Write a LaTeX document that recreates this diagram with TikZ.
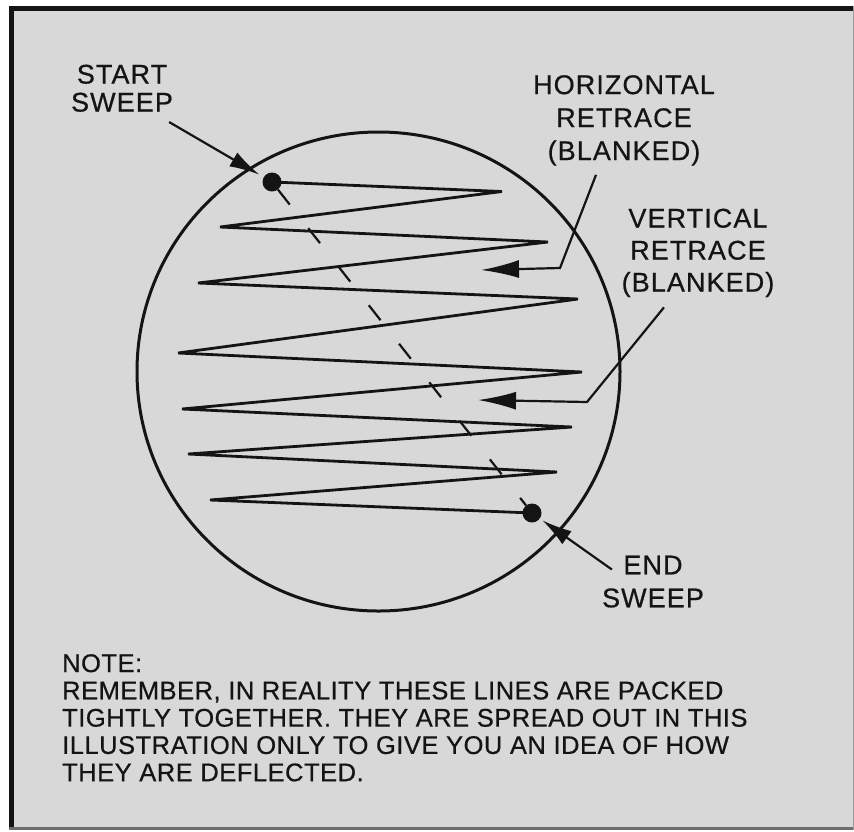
\documentclass[tikz,border=0pt]{standalone}
\usepackage{fontspec}
\setmainfont{Liberation Sans}
\newfontfamily\tracked[LetterSpace=4,FakeBold=0.6]{Liberation Sans}
\newfontfamily\notefont[LetterSpace=2,FakeBold=0.6]{Liberation Sans}
\usetikzlibrary{arrows.meta,calc,positioning}
\definecolor{screen}{HTML}{D8D8D8}
\definecolor{ink}{HTML}{141414}
\definecolor{edge}{HTML}{6E6E6E}

\begin{document}
\begin{tikzpicture}[x=1pt,y=-1pt,
    lbl/.style={inner sep=0pt,align=center,text=ink,font=\tracked\fontsize{27}{33}\selectfont},
    notetext/.style={inner sep=0pt,align=left,text=ink,font=\notefont\fontsize{25.5}{27.3}\selectfont},
    dot/.style={circle,fill=ink,inner sep=0pt,minimum size=19pt},
    trace/.style={ink,line width=2.8pt},
    pointer/.style={ink,line width=2.2pt,-{Latex[length=30pt,width=16pt]}},
    retrace/.style={ink,line width=2.2pt,-{Latex[length=38pt,width=18pt]}}]
  \useasboundingbox (0,0) rectangle (854,831);
  \fill[white] (0,0) rectangle (854,831);
  \fill[screen] (9,6) rectangle (854,830);
  \draw[ink,line width=5pt] (11.5,830) -- (11.5,8.5) -- (854,8.5);
  \draw[edge,line width=3pt] (9,828.5) -- (854,828.5);
  \draw[edge!70,line width=1.5pt] (853.25,6) -- (853.25,830);

  \draw[ink,line width=3pt] (378.5,371.5) ellipse [x radius=241.5,y radius=239.5];

  \node[lbl,anchor=north] (startlbl) at (122,64.5) {START\\[-5pt]SWEEP};
  \node[lbl,anchor=north] (hlbl) at (624,75) {HORIZONTAL\\RETRACE\\(BLANKED)};
  \node[lbl,anchor=north,font=\tracked\fontsize{27}{32}\selectfont] (vlbl) at (698,208.5) {VERTICAL\\RETRACE\\(BLANKED)};
  \node[lbl,anchor=north] (endlbl) at (653,555.5) {END\\SWEEP};
  \node[notetext,anchor=north west] (note) at (62,654) {NOTE:\\REMEMBER, IN REALITY THESE LINES ARE PACKED\\TIGHTLY TOGETHER. THEY ARE SPREAD OUT IN THIS\\ILLUSTRATION ONLY TO GIVE YOU AN IDEA OF HOW\\THEY ARE DEFLECTED.};

  \node[dot] (start) at (272,182) {};
  \node[dot] (end) at (532,513) {};
  \draw[ink,line width=2.2pt,dash pattern=on 19pt off 30pt] (start) -- (end);
  \draw[trace] (start.center) -- (502,191.5) -- (220,227) -- (548,242) -- (198,283)
    -- (578,299) -- (178,353) -- (582,372) -- (182,409) -- (572,427)
    -- (188,454) -- (557,472) -- (210,500) -- (end.center);

  \coordinate (hbend) at (560,268);
  \coordinate (htip) at (481,270);
  \coordinate (vbend) at (587,402);
  \coordinate (vtip) at (478,400);
  \draw[pointer,shorten >=5pt] ($(startlbl.south east)+(-4,10)$) -- (start);
  \draw[pointer,shorten >=3pt] ($(endlbl.north west)+(10,14)$) -- (end);
  \draw[retrace] ($(hlbl.south)+(-28,9)$) -- (hbend) -- (htip);
  \draw[retrace] ($(vlbl.south)+(-34,10)$) -- (vbend) -- (vtip);
\end{tikzpicture}
\end{document}
